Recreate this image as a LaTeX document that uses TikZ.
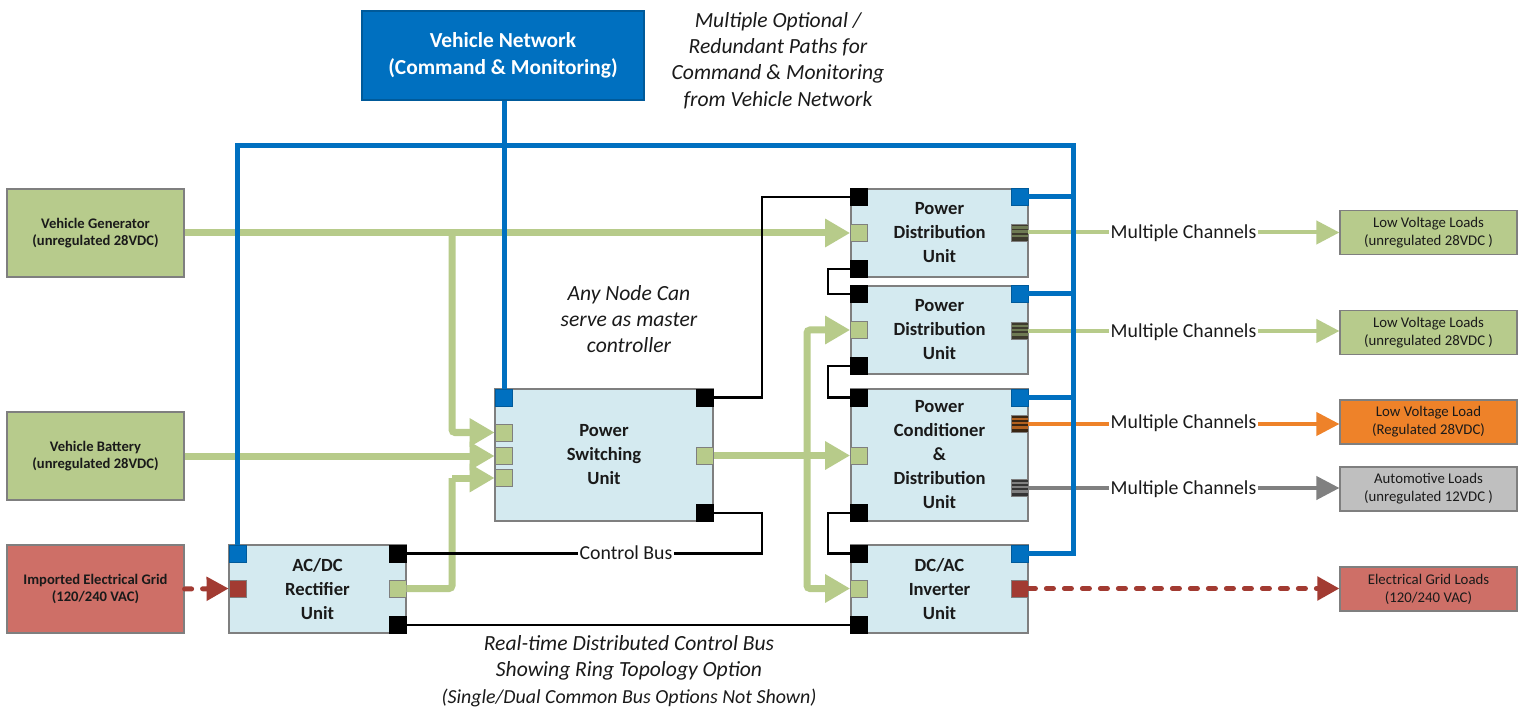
\documentclass[tikz,border=0pt]{standalone}
\usepackage{fontspec}
\setmainfont{Carlito}
\usetikzlibrary{arrows.meta}
\definecolor{vnblue}{HTML}{0070C0}
\definecolor{unitfill}{HTML}{D4EAF0}
\definecolor{srcgreen}{HTML}{B7CB8C}
\definecolor{pgreen}{HTML}{B7CB8A}
\definecolor{srcred}{HTML}{CE6F67}
\definecolor{darkred}{HTML}{A23B32}
\definecolor{lorange}{HTML}{EE8229}
\definecolor{lgray}{HTML}{BFBFBF}
\definecolor{dgray}{HTML}{808080}
\definecolor{bordergray}{HTML}{7F7F7F}
\definecolor{txt}{HTML}{1A1A1A}
\begin{document}
\begin{tikzpicture}[x=0.5pt,y=-0.5pt,
  unit/.style={draw=bordergray, line width=0.6pt, fill=unitfill, font=\bfseries\fontsize{9.3}{12}\selectfont, align=center, inner sep=0pt, text=txt},
  src/.style={draw=bordergray, line width=0.6pt, font=\bfseries\fontsize{7.3}{8.8}\selectfont, align=center, minimum width=88.5pt, minimum height=44pt, inner sep=0pt, text=txt},
  loadbox/.style={draw=bordergray, line width=0.6pt, font=\fontsize{7.4}{9}\selectfont, align=center, minimum width=88.5pt, minimum height=22pt, inner sep=0pt, text=txt},
  port/.style={draw=bordergray, line width=0.4pt, minimum width=8.5pt, minimum height=8.5pt, inner sep=0pt},
  kport/.style={port, fill=black, draw=black},
  bport/.style={port, fill=vnblue, draw=vnblue!80!black},
  gport/.style={port, fill=pgreen},
  rport/.style={port, fill=darkred},
  striped/.style 2 args={port, fill=#1, path picture={
      \foreach \k in {0.2,0.45,0.7}{
        \draw[#2, line width=1.2pt] ([yshift=-\k*8.5pt]path picture bounding box.north west) -- ([yshift=-\k*8.5pt]path picture bounding box.north east);}}},
  power/.style={pgreen, line width=3.5pt, rounded corners=1.5pt, -{Triangle[length=12.5pt,width=13.5pt]}},
  powerl/.style={pgreen, line width=3.5pt, rounded corners=1.5pt},
  ctrl/.style={black, line width=1.2pt},
  net/.style={vnblue, line width=2.5pt},
  outl/.style={line width=2pt, -{Triangle[length=11.5pt,width=11.5pt]}},
  acl/.style={darkred, line width=2.5pt, line cap=round, dash pattern=on 3.5pt off 5.5pt, -{Triangle[length=11pt,width=11.5pt]}},
  chan/.style={fill=white, inner sep=0.8pt, font=\fontsize{9.9}{12}\selectfont, text=txt},
  note/.style={font=\itshape\fontsize{10.8}{13.2}\selectfont, align=center, text=txt}
]
\useasboundingbox (0,0) rectangle (1518,710);
\fill[white] (0,0) rectangle (1518,710);

% ---------- boxes ----------
\node[draw=vnblue!80!black, line width=0.6pt, fill=vnblue, text=white, font=\bfseries\fontsize{10.7}{13.5}\selectfont, align=center, minimum width=141pt, minimum height=44.5pt, inner sep=0pt] (vn) at (503,55.5) {Vehicle Network\\(Command \& Monitoring)};

\node[src, fill=srcgreen] (gen) at (95.5,233) {Vehicle Generator\\(unregulated 28VDC)};
\node[src, fill=srcgreen] (bat) at (95.5,456) {Vehicle Battery\\(unregulated 28VDC)};
\node[src, fill=srcred] (grid) at (95.5,589) {Imported Electrical Grid\\(120/240 VAC)};

\node[unit, minimum width=88.5pt, minimum height=44pt] (acdc) at (317.5,589) {AC/DC\\Rectifier\\Unit};
\node[unit, minimum width=109pt, minimum height=66pt] (psu) at (604,455) {Power\\Switching\\Unit};
\node[unit, minimum width=88.5pt, minimum height=44pt] (pdu1) at (939.5,233) {Power\\Distribution\\Unit};
\node[unit, minimum width=88.5pt, minimum height=44pt] (pdu2) at (939.5,330) {Power\\Distribution\\Unit};
\node[unit, minimum width=88.5pt, minimum height=66pt] (pcdu) at (939.5,455) {Power\\Conditioner\\\&\\Distribution\\Unit};
\node[unit, minimum width=88.5pt, minimum height=44pt] (dcac) at (939.5,589) {DC/AC\\Inverter\\Unit};

\node[loadbox, fill=srcgreen] (load1) at (1428.5,232.5) {Low Voltage Loads\\(unregulated 28VDC )};
\node[loadbox, fill=srcgreen] (load2) at (1428.5,332.5) {Low Voltage Loads\\(unregulated 28VDC )};
\node[loadbox, fill=lorange] (load3) at (1428.5,422) {Low Voltage Load\\(Regulated 28VDC)};
\node[loadbox, fill=lgray] (load4) at (1428.5,489) {Automotive Loads\\(unregulated 12VDC )};
\node[loadbox, fill=srcred] (load5) at (1428.5,589) {Electrical Grid Loads\\(120/240 VAC)};

% ---------- ports ----------
\node[bport] (acdcB) at (237.5,553.5) {};
\node[rport] (acdcR) at (237.5,588.5) {};
\node[kport] (acdcK1) at (397.5,553.5) {};
\node[gport] (acdcG) at (397.5,588.5) {};
\node[kport] (acdcK2) at (397.5,625) {};

\node[bport] (psuB) at (504,397.5) {};
\node[gport] (psuG1) at (503.5,432.5) {};
\node[gport] (psuG2) at (503.5,455.5) {};
\node[gport] (psuG3) at (503.5,478) {};
\node[kport] (psuK1) at (705,397.5) {};
\node[gport] (psuGR) at (705,455.5) {};
\node[kport] (psuK2) at (705,513) {};

\node[kport] (pdu1K1) at (859,197) {};
\node[gport] (pdu1G) at (859,233) {};
\node[kport] (pdu1K2) at (859,269) {};
\node[bport] (pdu1B) at (1019.5,197) {};
\node[striped={black!75!olive}{pgreen!60!black}] (pdu1S) at (1019.5,232.5) {};

\node[kport] (pdu2K1) at (859,294) {};
\node[gport] (pdu2G) at (859,330) {};
\node[kport] (pdu2K2) at (859,366) {};
\node[bport] (pdu2B) at (1019.5,294) {};
\node[striped={black!75!olive}{pgreen!60!black}] (pdu2S) at (1019.5,331) {};

\node[kport] (pcduK1) at (859,397.5) {};
\node[gport] (pcduG) at (859,455.5) {};
\node[kport] (pcduK2) at (859,513) {};
\node[bport] (pcduB) at (1019.5,397.5) {};
\node[striped={black!70!brown}{lorange!75!black}] (pcduO) at (1019.5,424) {};
\node[striped={black!80}{gray}] (pcduY) at (1019.5,488) {};

\node[kport] (dcacK1) at (859,553.5) {};
\node[gport] (dcacG) at (859,588.5) {};
\node[kport] (dcacK2) at (859,625) {};
\node[bport] (dcacB) at (1019.5,553.5) {};
\node[rport] (dcacR) at (1019.5,588.5) {};

% ---------- helper coordinates ----------
\coordinate (j1) at (452,233);
\coordinate (j2) at (452,478);
\coordinate (j3) at (807,455.5);
\coordinate (cb1) at (762,300);
\coordinate (cb2) at (762,530);
\coordinate (r1) at (828,280);
\coordinate (r2) at (828,380);
\coordinate (r3) at (828,530);
\coordinate (busTR) at (1073,146);

% ---------- outputs ----------
\draw[outl, pgreen] (pdu1S.east) -- (pdu1S.east -| load1.west);
\draw[outl, pgreen] (pdu2S.east) -- (pdu2S.east -| load2.west);
\draw[outl, lorange] (pcduO.east) -- (pcduO.east -| load3.west);
\draw[outl, dgray] (pcduY.east) -- (pcduY.east -| load4.west);
\draw[acl] (dcacR.east) -- (dcacR.east -| load5.west);
\draw[acl] (grid.east) -- (acdcR.west);

% ---------- power lines ----------
\draw[power] (gen.east) -- (pdu1G.west);
\draw[power] (j1) |- (psuG1.west);
\draw[power] (bat.east) -- (bat.east -| psuG2.west);
\draw[powerl] (acdcG.east) -| (j2);
\draw[power] (j2) -- (psuG3.west);
\draw[power] (psuGR.east) -- (pcduG.west);
\draw[power] (j3) |- (pdu2G.west);
\draw[power] (j3) |- (dcacG.west);

% ---------- control bus ----------
\draw[ctrl] (psuK1.east) -| (cb1) |- (pdu1K1.west);
\draw[ctrl] (pdu1K2.west) -| (r1) |- (pdu2K1.west);
\draw[ctrl] (pdu2K2.west) -| (r2) |- (pcduK1.west);
\draw[ctrl] (pcduK2.west) -| (r3) |- (dcacK1.west);
\draw[ctrl] (acdcK2.east) -- (dcacK2.west);
\draw[ctrl] (acdcK1.east) -| (cb2) |- (psuK2.east);
\node[fill=white, inner sep=0.8pt, font=\fontsize{9.9}{12}\selectfont, text=txt] (cbl) at (626,553) {Control Bus};

% ---------- vehicle network ----------
\draw[net] (acdcB.north) |- (busTR) |- (dcacB.east);
\draw[net] (pdu1B.east) -- (pdu1B.east -| busTR);
\draw[net] (pdu2B.east) -- (pdu2B.east -| busTR);
\draw[net] (pcduB.east) -- (pcduB.east -| busTR);
\draw[net] (vn.south -| psuB.north) -- (psuB.north);

% ---------- labels ----------
\node[chan] (ch1) at (1183.5,233) {Multiple Channels};
\node[chan] (ch2) at (1183.5,332) {Multiple Channels};
\node[chan] (ch3) at (1183.5,423) {Multiple Channels};
\node[chan] (ch4) at (1183.5,489) {Multiple Channels};

\node[note] (nt1) at (778,60.5) {Multiple Optional /\\Redundant Paths for\\Command \& Monitoring\\from Vehicle Network};
\node[note] (nt2) at (629,319) {Any Node Can\\serve as master\\controller};
\node[note] (nt3) at (629,671) {Real-time Distributed Control Bus\\Showing Ring Topology Option\\{\fontsize{9.95}{13}\selectfont (Single/Dual Common Bus Options Not Shown)}};
\end{tikzpicture}
\end{document}
